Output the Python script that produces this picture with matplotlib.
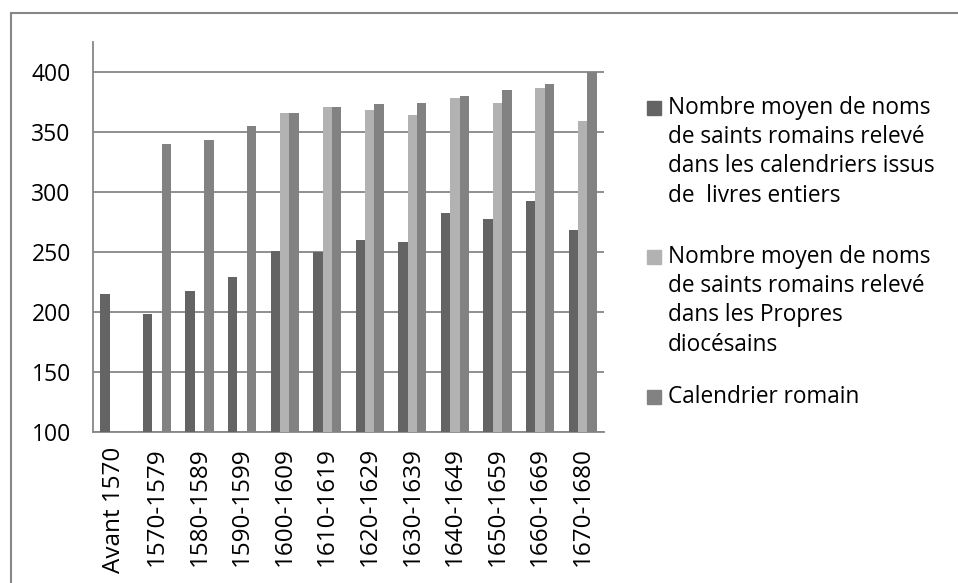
import numpy as np
import matplotlib.pyplot as plt
from matplotlib.patches import Rectangle

plt.rcParams['font.family'] = ['Open Sans', 'DejaVu Sans']

periods = ["Avant 1570", "1570-1579", "1580-1589", "1590-1599", "1600-1609",
           "1610-1619", "1620-1629", "1630-1639", "1640-1649", "1650-1659",
           "1660-1669", "1670-1680"]
livres_entiers = [215, 198, 217, 229, 251, 250, 260, 258, 282, 277, 292, 268]
propres_diocesains = [np.nan, np.nan, np.nan, np.nan, 366, 371, 368, 364, 378, 374, 387, 359]
calendrier_romain = [np.nan, 340, 343, 355, 366, 371, 373, 374, 380, 385, 390, 400]

labels = ["Nombre moyen de noms\nde saints romains relevé\ndans les calendriers issus\nde  livres entiers",
          "Nombre moyen de noms\nde saints romains relevé\ndans les Propres\ndiocésains",
          "Calendrier romain"]
colors = ["#646464", "#b2b2b2", "#828282"]
grid_col = "#878787"
fs = 16.3

fig = plt.figure(figsize=(9.58, 5.83), dpi=100)
ax = fig.add_axes([93/958, 1-431.7/583, 511/958, (431.7-42)/583])

x = np.arange(len(periods))
w = 0.22
for i, (vals, c) in enumerate(zip([livres_entiers, propres_diocesains, calendrier_romain], colors)):
    ax.bar(x + (i-1)*w, vals, width=w, bottom=0, color=c, zorder=3)

ax.set_xlim(-0.5, len(periods)-0.5)
ax.set_ylim(100, 425)
ax.set_yticks(range(100, 401, 50))
ax.yaxis.grid(True, color=grid_col, linewidth=1.3, zorder=0)
for s in ["top", "right"]:
    ax.spines[s].set_visible(False)
for s in ["left", "bottom"]:
    ax.spines[s].set_color(grid_col)
    ax.spines[s].set_linewidth(1.3)
ax.set_xticks(x)
ax.set_xticklabels(periods, rotation=90, va="top", ha="center")
ax.tick_params(axis="y", length=0, pad=16, labelsize=16.5)
ax.tick_params(axis="x", length=0, pad=11, labelsize=17.5)

# legend drawn by hand so each swatch sits on the first line of its label
leg_tops = [99, 248, 388]
for lab, c, top in zip(labels, colors, leg_tops):
    fig.add_artist(Rectangle((647/958, 1-(top+16)/583), 14/958, 14/583,
                             transform=fig.transFigure, color=c))
    fig.text(668/958, 1-(top-3)/583, lab, fontsize=fs, va="top", ha="left",
             linespacing=1.29)

# outer chart frame
fig.add_artist(Rectangle((11/958, -0.1), 1.2, 1.1-13/583, transform=fig.transFigure,
                         fill=False, edgecolor=grid_col, linewidth=1.5))

fig.savefig("out.png", dpi=100)
